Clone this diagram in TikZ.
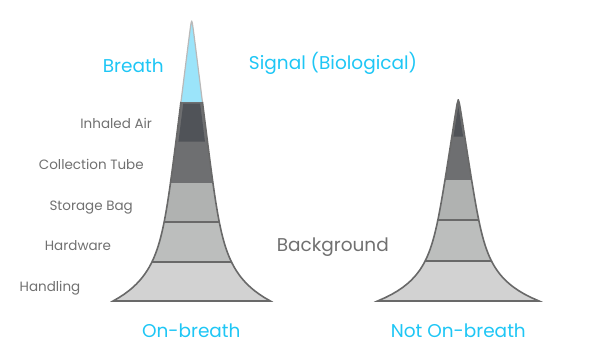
\documentclass[tikz,border=0pt]{standalone}
\usepackage{fontspec}
\setmainfont{Poppins}
\definecolor{bluetxt}{RGB}{30,198,245}
\definecolor{tipblue}{RGB}{155,228,250}
\definecolor{tipedge}{RGB}{185,185,185}
\definecolor{inhaled}{RGB}{80,83,88}
\definecolor{collect}{RGB}{110,111,113}
\definecolor{storage}{RGB}{176,178,177}
\definecolor{hardw}{RGB}{188,190,189}
\definecolor{handl}{RGB}{210,210,210}
\definecolor{edge}{RGB}{105,105,105}
\definecolor{labgrey}{RGB}{112,112,112}
\newcommand\hornband[6]{%
  \fill[#5] plot[variable=\t,domain=#3:#4,samples=30] ({#1+max(0,#2(\t)-#6)},{\t})
    -- plot[variable=\t,domain=#4:#3,samples=30] ({#1-max(0,#2(\t)-#6)},{\t}) -- cycle;}
\begin{document}
\begin{tikzpicture}[x=1pt,y=-1pt,
  declare function={
    wl(\t)=1.25*sqrt(max(0,((\t-21)/10)*((\t-11)/10)))+43*exp(0.04*(\t-301));
    wr(\t)=1.55*sqrt(max(0,((\t-100)/10)*((\t-90)/10)))+48.8*exp(0.047*(\t-301));
  },
  outline/.style={draw=edge,line width=1.6pt},
  tipline/.style={draw=tipedge,line width=1.2pt,line join=round},
  greylab/.style={anchor=base,text=labgrey,font=\fontsize{13.5}{13.5}\selectfont,inner sep=0pt},
  bluelab/.style={anchor=base,text=bluetxt,font=\fontsize{18.5}{18.5}\selectfont,inner sep=0pt},
  biglab/.style={anchor=base,text=labgrey,font=\fontsize{18.5}{18.5}\selectfont,inner sep=0pt}]
\useasboundingbox (0,0) rectangle (600,361);
% ---- left horn (On-breath)
\hornband{191.7}{wl}{21}{102}{tipblue}{0}
\hornband{191.7}{wl}{102}{183}{collect}{0}
\hornband{191.7}{wl}{183}{222}{storage}{0}
\hornband{191.7}{wl}{222}{262}{hardw}{0}
\hornband{191.7}{wl}{262}{301}{handl}{0}
\hornband{191.7}{wl}{103.5}{141.5}{inhaled}{2.5}
\draw[tipline] plot[variable=\t,domain=102:21,samples=40] ({191.7-wl(\t)},{\t})
  -- plot[variable=\t,domain=21:102,samples=40] ({191.7+wl(\t)},{\t});
\draw[outline] plot[variable=\t,domain=102:301,samples=60] ({191.7-wl(\t)},{\t})
  -- plot[variable=\t,domain=301:102,samples=60] ({191.7+wl(\t)},{\t});
\draw[outline] ({191.7-wl(222)},222) -- ({191.7+wl(222)},222);
\draw[outline] ({191.7-wl(262)},262) -- ({191.7+wl(262)},262);
% ---- right horn (Not On-breath)
\hornband{458.3}{wr}{100}{180}{collect}{0}
\hornband{458.3}{wr}{180}{220}{storage}{0}
\hornband{458.3}{wr}{220}{261}{hardw}{0}
\hornband{458.3}{wr}{261}{301}{handl}{0}
\hornband{458.3}{wr}{101}{136.5}{inhaled}{1.6}
\draw[outline] plot[variable=\t,domain=301:100,samples=60] ({458.3-wr(\t)},{\t})
  -- plot[variable=\t,domain=100:301,samples=60] ({458.3+wr(\t)},{\t}) -- cycle;
\draw[outline] ({458.3-wr(220)},220) -- ({458.3+wr(220)},220);
\draw[outline] ({458.3-wr(261)},261) -- ({458.3+wr(261)},261);
% ---- labels
\node[bluelab] (breath) at (133.3,73) {Breath};
\node[bluelab] (signal) at (333,70) {Signal (Biological)};
\node[greylab] (inhaledlab) at (116.2,128.5) {Inhaled Air};
\node[greylab] (collectlab) at (91.3,169.5) {Collection Tube};
\node[greylab] (storagelab) at (91.2,210) {Storage Bag};
\node[greylab] (hardwlab) at (78,250.7) {Hardware};
\node[greylab] (handllab) at (50,291.7) {Handling};
\node[biglab] (backgr) at (332.8,251.7) {Background};
\node[bluelab] (onbreath) at (191.3,337.3) {On-breath};
\node[bluelab] (notonbreath) at (458.3,337.3) {Not On-breath};
\end{tikzpicture}
\end{document}
